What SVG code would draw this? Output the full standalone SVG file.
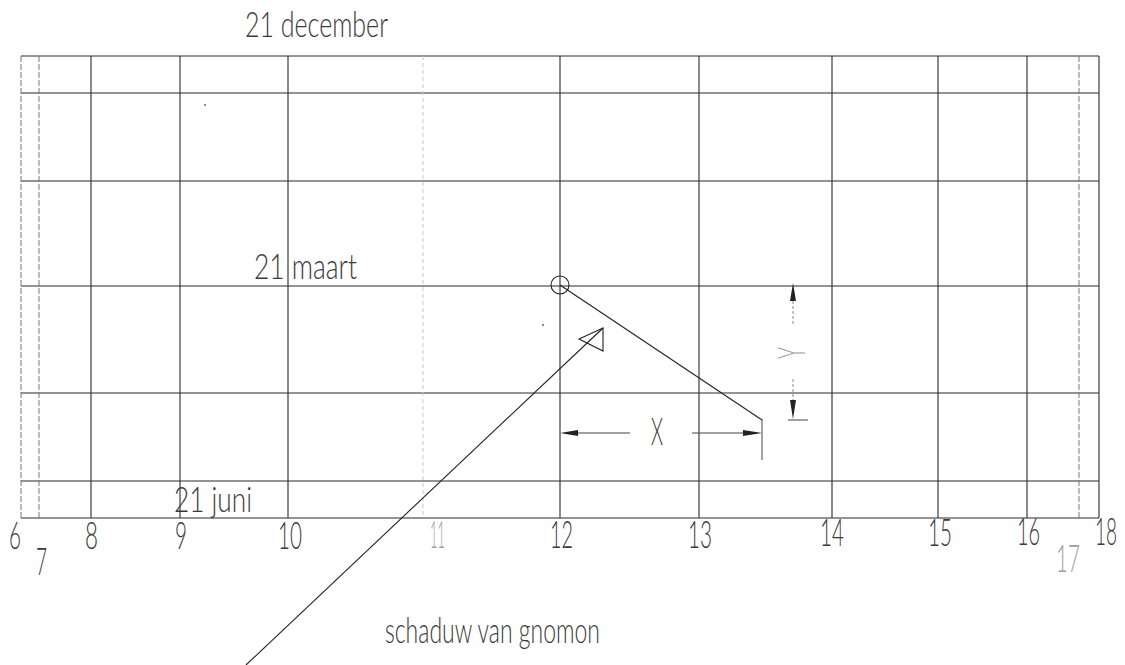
<svg xmlns="http://www.w3.org/2000/svg" width="1125" height="665" viewBox="0 0 1125 665">
<style>
.bg{fill:#ffffff}
.g{stroke:#2a2a2a;stroke-width:1.1;fill:none}
.gl{stroke:#777;stroke-width:1;fill:none;stroke-dasharray:6,2}
.gf{stroke:#c8c8c8;stroke-width:1;fill:none;stroke-dasharray:4,3}
.ln{stroke:#222;stroke-width:1.1;fill:none}
.dim{stroke:#444;stroke-width:1;fill:none}
.dd{stroke:#888;stroke-width:1;fill:none;stroke-dasharray:3,2}
.ah{fill:#222;stroke:none}
.t{font-family:"Lato","DejaVu Sans",sans-serif;font-weight:300;font-size:36px;fill:#3a3a3a}
.n{font-family:"Lato","DejaVu Sans",sans-serif;font-weight:300;font-size:38px;fill:#3a3a3a}
.lt{fill:#a0a0a0}
</style>
<rect class="bg" x="0" y="0" width="1125" height="665"/>
<g id="grid">
  <line class="g" x1="21" y1="56" x2="1099" y2="56"/>
  <line class="g" x1="21" y1="93" x2="1099" y2="93"/>
  <line class="g" x1="21" y1="181" x2="1099" y2="181"/>
  <line class="g" x1="21" y1="286" x2="1099" y2="286"/>
  <line class="g" x1="21" y1="393" x2="1099" y2="393"/>
  <line class="g" x1="21" y1="481" x2="1099" y2="481"/>
  <line class="g" x1="21" y1="518" x2="1099" y2="518"/>
  <line class="gl" x1="21" y1="56" x2="21" y2="518"/>
  <line class="gl" x1="39" y1="56" x2="39" y2="518"/>
  <line class="g" x1="91" y1="56" x2="91" y2="518"/>
  <line class="g" x1="180" y1="56" x2="180" y2="518"/>
  <line class="g" x1="288" y1="56" x2="288" y2="518"/>
  <line class="gf" x1="423" y1="56" x2="423" y2="518"/>
  <line class="g" x1="560" y1="56" x2="560" y2="518"/>
  <line class="g" x1="699" y1="56" x2="699" y2="518"/>
  <line class="g" x1="832" y1="56" x2="832" y2="518"/>
  <line class="g" x1="938" y1="56" x2="938" y2="518"/>
  <line class="g" x1="1027" y1="56" x2="1027" y2="518"/>
  <line class="gl" x1="1079" y1="56" x2="1079" y2="518"/>
  <line class="g" x1="1099" y1="56" x2="1099" y2="518"/>
  <circle cx="205" cy="105" r="0.9" fill="#555"/>
  <circle cx="543" cy="325" r="0.9" fill="#555"/>
</g>
<g id="date-labels">
  <text id="lbl-december" class="t" x="245" y="37" textLength="143" lengthAdjust="spacingAndGlyphs">21 december</text>
  <text id="lbl-maart" class="t" x="254" y="279" textLength="103" lengthAdjust="spacingAndGlyphs">21 maart</text>
  <text id="lbl-juni" class="t" x="174" y="512" textLength="78" lengthAdjust="spacingAndGlyphs">21 juni</text>
</g>
<g id="hour-labels">
  <text class="n" x="9" y="549" textLength="12" lengthAdjust="spacingAndGlyphs">6</text>
  <text class="n" x="36" y="575" textLength="11" lengthAdjust="spacingAndGlyphs">7</text>
  <text class="n" x="85" y="549" textLength="13" lengthAdjust="spacingAndGlyphs">8</text>
  <text class="n" x="175" y="549" textLength="12" lengthAdjust="spacingAndGlyphs">9</text>
  <text class="n" x="278" y="549" textLength="24" lengthAdjust="spacingAndGlyphs">10</text>
  <text class="n lt" x="430" y="548" textLength="15" lengthAdjust="spacingAndGlyphs">11</text>
  <text class="n" x="550" y="548" textLength="23" lengthAdjust="spacingAndGlyphs">12</text>
  <text class="n" x="688" y="548" textLength="24" lengthAdjust="spacingAndGlyphs">13</text>
  <text class="n" x="820" y="546" textLength="24" lengthAdjust="spacingAndGlyphs">14</text>
  <text class="n" x="928" y="546" textLength="24" lengthAdjust="spacingAndGlyphs">15</text>
  <text class="n" x="1017" y="545" textLength="23" lengthAdjust="spacingAndGlyphs">16</text>
  <text class="n lt" x="1056" y="572" textLength="24" lengthAdjust="spacingAndGlyphs">17</text>
  <text class="n" x="1095" y="545" textLength="22" lengthAdjust="spacingAndGlyphs">18</text>
</g>
<g id="gnomon">
  <circle class="ln" cx="560" cy="285" r="9"/>
</g>
<g id="shadow-label">
  <text class="t" x="385" y="643" textLength="215" lengthAdjust="spacingAndGlyphs">schaduw van gnomon</text>
</g>
<g id="connectors">
  <line class="ln" x1="560" y1="285" x2="762" y2="420"/>
  <line class="ln" x1="246" y1="665" x2="603" y2="328"/>
  <polygon class="ln" points="603,328 579,339 603,351"/>
  <line class="dim" x1="578" y1="433" x2="630" y2="433"/>
  <line class="dim" x1="692" y1="433" x2="743" y2="433"/>
  <polygon class="ah" points="560,433 578,430 578,436"/>
  <polygon class="ah" points="762,433 743,430 743,436"/>
  <line class="dim" x1="762" y1="419" x2="762" y2="460"/>
  <line class="dd" x1="793" y1="301" x2="793" y2="324"/>
  <line class="dd" x1="793" y1="379" x2="793" y2="400"/>
  <polygon class="ah" points="793,283 790,301 796,301"/>
  <polygon class="ah" points="793,419 790,400 796,400"/>
  <line class="dim" x1="788" y1="420" x2="808" y2="420"/>
</g>
<g id="dim-labels">
  <text class="n" x="651" y="445" textLength="12" lengthAdjust="spacingAndGlyphs">X</text>
  <text class="n lt" x="0" y="0" transform="translate(805,353) rotate(-90)" text-anchor="middle" textLength="12" lengthAdjust="spacingAndGlyphs">Y</text>
</g>
</svg>
